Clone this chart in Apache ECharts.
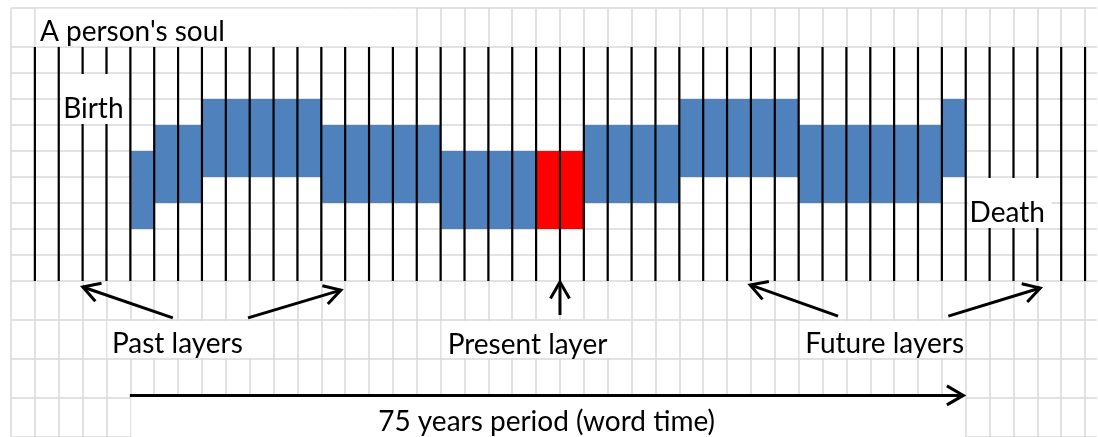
<!DOCTYPE html>
<html>
<head>
<meta charset="utf-8">
<title>A person's soul</title>
<script src="https://cdn.jsdelivr.net/npm/echarts/dist/echarts.min.js"></script>
<style>
html, body { margin: 0; padding: 0; background: #fff; }
#soulChart { width: 1098px; height: 437px; }
</style>
</head>
<body>
<div id="soulChart"></div>
<script>
// sheet rows (horizontal grid lines, in row units, 0 = bottom of the soul block)
var rowLines = [10.5, 9, 8, 7, 6, 5, 4, 3, 2, 1, 0, -1.5, -3, -4.5, -6];
// black lines of the soul, one per year column boundary
var soulLineX = [0, 1, 2, 3, 4, 5, 6, 7, 8, 9, 10, 11, 12, 13, 14, 15, 16, 17, 18, 19, 20, 21,
	22, 23, 24, 25, 26, 27, 28, 29, 30, 31, 32, 33, 34, 35, 36, 37, 38, 39, 40, 41, 42, 43, 44];

// blue layers: first column, last column, low, high
var layerStart = [4, 5, 7, 12, 17, 23, 27, 32, 38];
var layerEnd   = [4, 6, 11, 16, 20, 26, 31, 37, 38];
var layerLow   = [2, 3, 4, 3, 2, 3, 4, 3, 4];
var layerHigh  = [5, 6, 7, 6, 5, 6, 7, 6, 7];

// red present layer
var presentStart = [21];
var presentEnd   = [22];
var presentLow   = [2];
var presentHigh  = [5];

var labelTexts = ["A person's soul", 'Birth', 'Death', 'Past layers', 'Present layer', 'Future layers', '75 years period (word time)'];

// arrows: from x, from y, to x, to y
var arrowFromX = [5.78, 8.93, 22, 33.65, 38.27, 3.98];
var arrowFromY = [-1.42, -1.42, -1.31, -1.35, -1.35, -4.4];
var arrowToX   = [2.01, 12.82, 22, 29.97, 42.12, 38.9];
var arrowToY   = [-0.23, -0.35, -0.04, -0.15, -0.27, -4.4];

var FONT = '28px Lato, "DejaVu Sans", sans-serif';

// white text boxes: [x0, x1, y0, y1, textX, textY, align]
var labelBoxes = [
	[0.04, 15.96, 9.03, 10.47, 0.21, 9.58, 'left'],
	[1.1, 3.9, 6.04, 7.96, 2.45, 6.6, 'center'],
	[39.1, 42.6, 2.04, 3.96, 40.74, 2.62, 'center'],
	[3.04, 9.96, -2.96, -1.54, 5.97, -2.43, 'center'],
	[17.04, 24.96, -2.96, -1.54, 20.64, -2.46, 'center'],
	[32.04, 38.96, -2.96, -1.54, 35.6, -2.43, 'center'],
	[4.04, 38.96, -6, -4.42, 21.44, -5.44, 'center']
];

function segData(start, end, low, high){
	var d = [];
	for (var i = 0; i < start.length; i++) {
		d.push([start[i], low[i], end[i], high[i]]);
	}
	return d;
}

function renderLayer(color){
	return function(params, api){
		var p0 = api.coord([api.value(0), api.value(3)]);
		var p1 = api.coord([api.value(2) + 1, api.value(1)]);
		return {
			type: 'rect',
			shape: { x: p0[0], y: p0[1], width: p1[0] - p0[0], height: p1[1] - p0[1] },
			style: { fill: color }
		};
	};
}

var soulChart = echarts.init(document.getElementById('soulChart'));

var option = {
	animation: false,
	backgroundColor: '#fff',
	grid: { left: 11, right: 1, top: 8, bottom: 0 },
	xAxis: {
		type: 'value',
		min: -1,
		max: 44.5,
		interval: 1,
		axisLine: { show: false },
		axisTick: { show: false },
		axisLabel: { show: false },
		splitLine: {
			show: true,
			showMaxLine: false,
			lineStyle: { color: '#d9d9d9', width: 1.5 }
		}
	},
	yAxis: {
		type: 'value',
		min: -6,
		max: 10.5,
		axisLine: { show: false },
		axisTick: { show: false },
		axisLabel: { show: false },
		splitLine: { show: false }
	},
	series: [
		{
			// sheet rows
			type: 'custom',
			z: 1,
			silent: true,
			data: rowLines.map(function(v){ return [0, v]; }),
			renderItem: function(params, api){
				var y = api.coord([0, api.value(1)])[1];
				var cs = params.coordSys;
				return {
					type: 'line',
					shape: { x1: cs.x, y1: y, x2: cs.x + cs.width, y2: y },
					style: { stroke: '#d9d9d9', lineWidth: 1.5 }
				};
			}
		},
		{
			name: 'layers',
			type: 'custom',
			z: 2,
			data: segData(layerStart, layerEnd, layerLow, layerHigh),
			renderItem: renderLayer('#4f81bd')
		},
		{
			name: 'present',
			type: 'custom',
			z: 2,
			data: segData(presentStart, presentEnd, presentLow, presentHigh),
			renderItem: renderLayer('#ff0000')
		},
		{
			// soul lines
			type: 'custom',
			z: 3,
			silent: true,
			data: soulLineX.map(function(x){ return [x, 0]; }),
			renderItem: function(params, api){
				var p0 = api.coord([api.value(0), 0]);
				var p1 = api.coord([api.value(0), 9]);
				return {
					type: 'line',
					shape: { x1: p0[0], y1: p0[1], x2: p1[0], y2: p1[1] },
					style: { stroke: '#000', lineWidth: 2.2 }
				};
			}
		},
		{
			// text boxes
			type: 'custom',
			z: 4,
			silent: true,
			data: labelBoxes.map(function(b, i){ return [b[0], b[2], i]; }),
			renderItem: function(params, api){
				var b = labelBoxes[params.dataIndex];
				var p0 = api.coord([b[0], b[3]]);
				var p1 = api.coord([b[1], b[2]]);
				var t = api.coord([b[4], b[5]]);
				return {
					type: 'group',
					children: [{
						type: 'rect',
						shape: { x: p0[0], y: p0[1], width: p1[0] - p0[0], height: p1[1] - p0[1] },
						style: { fill: '#fff' }
					}, {
						type: 'text',
						style: {
							text: labelTexts[params.dataIndex],
							x: t[0], y: t[1],
							font: FONT,
							fill: '#000',
							align: b[6],
							verticalAlign: 'middle'
						}
					}]
				};
			}
		},
		{
			// arrows
			type: 'custom',
			z: 5,
			silent: true,
			data: arrowFromX.map(function(x, i){ return [x, arrowFromY[i], arrowToX[i], arrowToY[i]]; }),
			renderItem: function(params, api){
				var p0 = api.coord([api.value(0), api.value(1)]);
				var p1 = api.coord([api.value(2), api.value(3)]);
				var ang = Math.atan2(p1[1] - p0[1], p1[0] - p0[0]);
				var len = 19, spread = Math.PI / 6;
				var h1 = [p1[0] - len * Math.cos(ang - spread), p1[1] - len * Math.sin(ang - spread)];
				var h2 = [p1[0] - len * Math.cos(ang + spread), p1[1] - len * Math.sin(ang + spread)];
				return {
					type: 'group',
					children: [{
						type: 'line',
						shape: { x1: p0[0], y1: p0[1], x2: p1[0], y2: p1[1] },
						style: { stroke: '#000', lineWidth: 3 }
					}, {
						type: 'polyline',
						shape: { points: [h1, p1, h2] },
						style: { stroke: '#000', lineWidth: 3, fill: null, lineJoin: 'miter' }
					}]
				};
			}
		}
	]
};

soulChart.setOption(option);
</script>
</body>
</html>
